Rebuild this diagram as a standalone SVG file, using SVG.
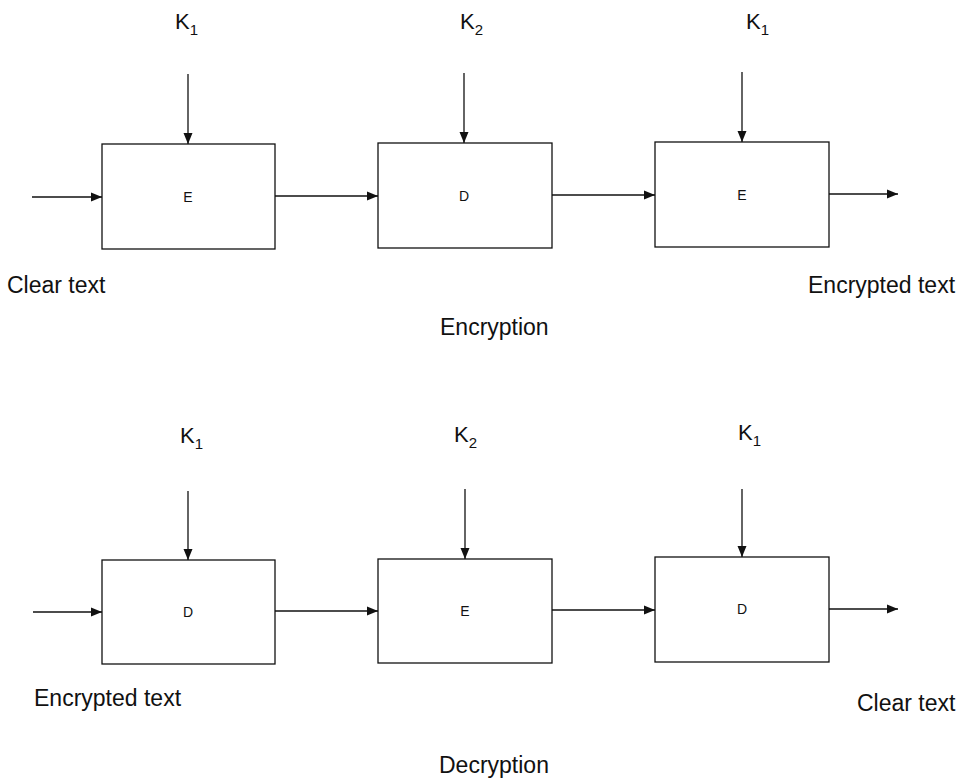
<svg xmlns="http://www.w3.org/2000/svg" width="960" height="779" viewBox="0 0 960 779">
  <style>
    .box { fill: #ffffff; stroke: #111111; stroke-width: 1.3; }
    .wire { fill: none; stroke: #111111; stroke-width: 1.3; }
    .lbl { font-family: "Liberation Sans", Arial, sans-serif; font-size: 23px; fill: #111111; }
    .key { font-family: "Liberation Sans", Arial, sans-serif; font-size: 22px; fill: #111111; }
    .sub { font-size: 15px; }
    .op { font-family: "Liberation Sans", Arial, sans-serif; font-size: 14px; fill: #111111; text-anchor: middle; }
  </style>
  <defs>
    <marker id="arrow" markerUnits="userSpaceOnUse" markerWidth="12" markerHeight="10" refX="11" refY="5" orient="auto">
      <path d="M0,0.5 L11,5 L0,9.5 Z" fill="#111111"/>
    </marker>
  </defs>
  <rect width="960" height="779" fill="#ffffff"/>

  <!-- Encryption chain: E(K1) -> D(K2) -> E(K1) -->
  <g id="enc-e1">
    <rect class="box" x="102" y="144" width="173" height="105"/>
    <text class="op" x="188" y="202">E</text>
  </g>
  <g id="enc-d2">
    <rect class="box" x="378" y="143" width="174" height="105"/>
    <text class="op" x="464" y="201">D</text>
  </g>
  <g id="enc-e3">
    <rect class="box" x="655" y="142" width="174" height="105"/>
    <text class="op" x="742" y="200">E</text>
  </g>

  <!-- Decryption chain: D(K1) -> E(K2) -> D(K1) -->
  <g id="dec-d1">
    <rect class="box" x="102" y="560" width="173" height="104"/>
    <text class="op" x="188" y="617">D</text>
  </g>
  <g id="dec-e2">
    <rect class="box" x="378" y="559" width="174" height="104"/>
    <text class="op" x="465" y="616">E</text>
  </g>
  <g id="dec-d3">
    <rect class="box" x="655" y="557" width="174" height="105"/>
    <text class="op" x="742" y="614">D</text>
  </g>

  <g id="connectors">
    <!-- encryption data path -->
    <line class="wire" x1="32" y1="197" x2="102" y2="197" marker-end="url(#arrow)"/>
    <line class="wire" x1="275" y1="196" x2="378" y2="196" marker-end="url(#arrow)"/>
    <line class="wire" x1="552" y1="195" x2="655" y2="195" marker-end="url(#arrow)"/>
    <line class="wire" x1="829" y1="194" x2="898" y2="194" marker-end="url(#arrow)"/>
    <!-- encryption keys -->
    <line class="wire" x1="188" y1="74" x2="188" y2="144" marker-end="url(#arrow)"/>
    <line class="wire" x1="464" y1="73" x2="464" y2="143" marker-end="url(#arrow)"/>
    <line class="wire" x1="742" y1="72" x2="742" y2="142" marker-end="url(#arrow)"/>
    <!-- decryption data path -->
    <line class="wire" x1="33" y1="612" x2="102" y2="612" marker-end="url(#arrow)"/>
    <line class="wire" x1="275" y1="611" x2="378" y2="611" marker-end="url(#arrow)"/>
    <line class="wire" x1="552" y1="610" x2="655" y2="610" marker-end="url(#arrow)"/>
    <line class="wire" x1="829" y1="609" x2="898" y2="609" marker-end="url(#arrow)"/>
    <!-- decryption keys -->
    <line class="wire" x1="188" y1="491" x2="188" y2="560" marker-end="url(#arrow)"/>
    <line class="wire" x1="465" y1="489" x2="465" y2="559" marker-end="url(#arrow)"/>
    <line class="wire" x1="742" y1="489" x2="742" y2="557" marker-end="url(#arrow)"/>
  </g>

  <!-- key labels -->
  <text class="key" x="175" y="29">K<tspan class="sub" dy="6">1</tspan></text>
  <text class="key" x="460" y="29">K<tspan class="sub" dy="6">2</tspan></text>
  <text class="key" x="746" y="29">K<tspan class="sub" dy="6">1</tspan></text>
  <text class="key" x="180" y="443">K<tspan class="sub" dy="6">1</tspan></text>
  <text class="key" x="454" y="442">K<tspan class="sub" dy="6">2</tspan></text>
  <text class="key" x="738" y="440">K<tspan class="sub" dy="6">1</tspan></text>

  <!-- text labels -->
  <text class="lbl" x="7" y="293">Clear text</text>
  <text class="lbl" x="808" y="293">Encrypted text</text>
  <text class="lbl" x="440" y="335">Encryption</text>
  <text class="lbl" x="34" y="706">Encrypted text</text>
  <text class="lbl" x="857" y="711">Clear text</text>
  <text class="lbl" x="439" y="773">Decryption</text>
</svg>
